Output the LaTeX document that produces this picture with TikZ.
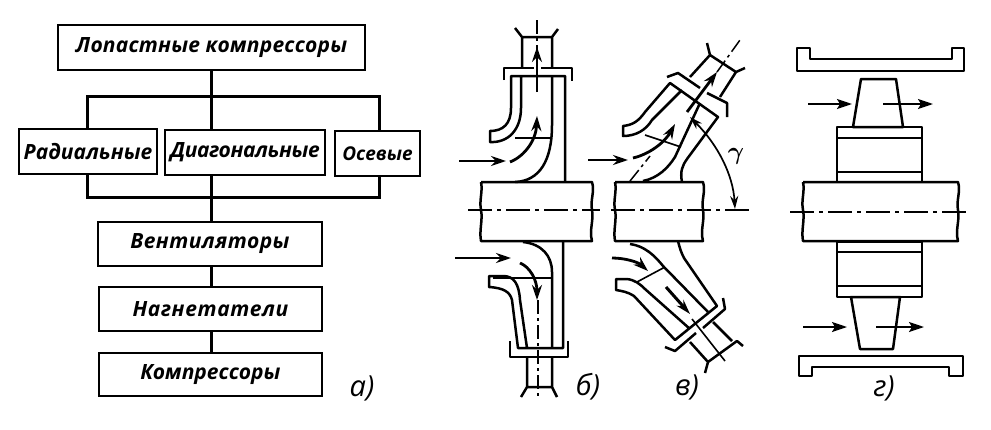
\documentclass[tikz,border=0pt]{standalone}
\usepackage{fontspec}
\setsansfont{Open Sans}
\usetikzlibrary{positioning, arrows.meta, calc}
\newcommand{\spaced}[1]{\addfontfeature{LetterSpace=#1}}
\begin{document}
\begin{tikzpicture}[
  x=1pt, y=-1pt,
  font=\sffamily,
  opbox/.style = {draw, line width=2.3pt, minimum height=45pt, inner sep=0pt, font=\sffamily\bfseries\itshape\fontsize{21}{21}\selectfont},
  lnk/.style   = {line width=3pt},
  wall/.style  = {line width=2.5pt, line join=round},
  fine/.style  = {line width=1.6pt},
  axisln/.style = {line width=1.2pt, dash pattern=on 24pt off 5pt on 4pt off 5pt},
  dotln/.style = {line width=1.5pt, dash pattern=on 14pt off 4pt on 3pt off 4pt},
  flow/.style  = {line width=2pt, -{Stealth[length=15pt,width=10pt,inset=3pt]}},
  flowb/.style = {line width=2.8pt, -{Stealth[length=15pt,width=10pt]}},
  partlbl/.style = {font=\sffamily\itshape\fontsize{29}{29}\selectfont},
]
\useasboundingbox (0,0) rectangle (991,429);
% shaft block with broken sides: #1 left x  #2 right x
\newcommand{\rotorshaft}[2]{%
  \draw[wall] (#1,182) -- (#2,182)
    .. controls (#2+3,192) and (#2-2,200) .. (#2,210)
    .. controls (#2+2,220) and (#2-3,230) .. (#2,241) -- (#1,241)
    .. controls (#1-2,230) and (#1+2,220) .. (#1,210)
    .. controls (#1-2,200) and (#1+2,192) .. (#1,182);%
}
% ---- scheme a
\node[opbox, minimum width=307pt] (top) at (211.5,47.5) {\spaced{1}Лопастные компрессоры};
\node[opbox, minimum width=138pt] (radial) at (88,151.5) {Радиальные};
\node[opbox, minimum width=160pt] (diag) at (245,152.5) {\spaced{-2}Диагональные};
\node[opbox, minimum width=85pt] (axial) at (377.5,153.5) {\fontsize{19}{19}\selectfont Осевые};
\node[opbox, minimum width=224pt, minimum height=44pt] (fan) at (210,244) {\spaced{2}Вентиляторы};
\node[opbox, minimum width=223pt, minimum height=44pt] (blower) at (210.5,309) {\spaced{3}Нагнетатели};
\node[opbox, minimum width=223pt, minimum height=43pt] (comp) at (210.5,374.5) {Компрессоры};
\coordinate (barTL) at (87,96);
\coordinate (barTR) at (379,96);
\coordinate (barBL) at (87,197);
\coordinate (barBR) at (379,197);
\draw[lnk] (top.south) -- (top.south |- diag.north);
\draw[lnk] (barTL |- radial.north) -- (barTL) -- (barTR) -- (barTR |- axial.north);
\draw[lnk] (barBL |- radial.south) -- (barBL) -- (barBR) -- (barBR |- axial.south);
\draw[lnk] (top.south |- diag.south) -- (top.south |- fan.north);
\draw[lnk] (top.south |- fan.south) -- (top.south |- blower.north);
\draw[lnk] (top.south |- blower.south) -- (top.south |- comp.north);
\node[partlbl] (lblA) at (362,388) {а)};
% ---- scheme b, radial
\rotorshaft{481}{592}
\draw[axisln] (468,210) -- (600,210);
\draw[wall] (565,182) -- (565,76) -- (511,76) -- (511,108) .. controls (511,124) and (503,131) .. (490,131) -- (490,142)
  .. controls (508,143) and (521,130) .. (521,108) -- (521,76);
\draw[wall] (552,76) -- (552,125) .. controls (552,160) and (540,181) .. (515,182);
\draw[fine] (515,138) -- (552,138);
\draw[wall] (504,80) -- (504,68) -- (534,68) (541,68) -- (572,68) -- (572,81);
\draw[wall] (522,68) -- (522,37) -- (552,37) -- (552,68) (522,37) -- (515,28) (552,37) -- (558,29);
\draw[dotln] (537,20) -- (537,50);
\draw[flowb] (537,92) -- (537,47);
\draw[flowb] (510,162) .. controls (525,156) and (536,140) .. (537,116);
\draw[flowb] (459,161) -- (506,161);
\draw[wall] (563,241) -- (563,348) -- (518,348) -- (512,300) .. controls (510,292) and (504,288) .. (489,287) -- (489,276) -- (503,276)
  .. controls (514,276) and (519,284) .. (520,300) -- (527,348);
\draw[wall] (523,242) .. controls (542,244) and (552,256) .. (552,272) -- (552,348);
\draw[fine] (493,278) -- (552,278);
\draw[wall] (510,341) -- (510,357) -- (568,357) -- (568,341);
\draw[wall] (527,357) -- (527,387) -- (552,387) -- (552,357) (527,387) -- (521,397) (552,387) -- (557,397);
\draw[dotln] (538,300) -- (538,399);
\draw[flowb] (520,263) .. controls (530,267) and (537,280) .. (537,300);
\draw[flowb] (455,258) -- (511,258);
\node[partlbl] (lblB) at (588,387) {б)};
% ---- scheme c, diagonal
\rotorshaft{615}{703}
\draw[axisln] (611,210) -- (751,210);
\draw[wall] (682,182) .. controls (680,172) and (682,166) .. (687,159) -- (718,117) -- (670,83) -- (645,112)
  .. controls (638,122) and (632,125) .. (623,126) -- (623,136) .. controls (636,136) and (646,130) .. (652,120) -- (682,90);
\draw[wall] (643,181) .. controls (658,178) and (668,168) .. (675,157) -- (700,103);
\draw[fine] (645,135) -- (681,147);
\draw[wall] (667,77) -- (678,73) -- (700,88) (707,93) -- (727,103) -- (727,117);
\draw[wall] (690,77) -- (710,55) -- (736,72) -- (720,97) (710,55) -- (707,43) (736,72) -- (745,68);
\draw[dotln] (630,181) -- (650,156) (717,72) -- (740,40);
\draw[flowb] (687,112) -- (717,72);
\draw[flowb] (633,158) .. controls (650,154) and (665,142) .. (675,124);
\draw[flowb] (588,160) -- (628,160);
\draw[line width=1.7pt, {Stealth[length=13pt,width=8pt]}-{Stealth[length=13pt,width=8pt]}] (690,117) .. controls (718,145) and (733,175) .. (735,209);
\node[font=\boldmath\fontsize{31}{31}\selectfont] (gamma) at (736,156) {$\gamma$};
\draw[wall] (678,241) .. controls (680,249) and (681,252) .. (684,258) -- (717,306) -- (675,340) -- (634,296)
  .. controls (628,292) and (622,291) .. (616,290) -- (616,279) -- (627,279) .. controls (635,280) and (640,284) .. (645,289) -- (690,329);
\draw[wall] (630,244) .. controls (645,246) and (655,256) .. (663,266) -- (708,312);
\draw[fine] (637,282) -- (665,267);
\draw[wall] (665,347) -- (675,351) -- (696,333) (703,328) -- (725,309) -- (723,298);
\draw[wall] (690,342) -- (708,362) -- (737,341) -- (743,346) (713,322) -- (732,341) (708,362) -- (705,373);
\draw[fine] (692,319) -- (725,361);
\draw[flowb] (612,258) .. controls (625,258) and (638,262) .. (648,271);
\draw[line width=3pt, -{Stealth[length=15pt,width=9pt]}] (666,287) -- (690,314);
\node[partlbl] (lblC) at (687,387) {в)};
% ---- scheme d, axial
\rotorshaft{803}{958}
\draw[axisln] (790,212) -- (970,212);
\draw[wall] (797,48) -- (810,48) -- (810,59) -- (952,59) -- (952,48) -- (964,48) -- (964,71) -- (797,71) -- cycle;
\draw[wall] (861,79) -- (896,79) -- (903,127) -- (853,127) -- cycle;
\draw[wall] (837,182) rectangle (922,127);
\foreach \yy in {138,172,252,286} {\draw[fine] (837,\yy) -- (922,\yy);}
\draw[wall] (837,242) rectangle (922,297);
\draw[wall] (851,297) -- (900,297) -- (893,349) -- (860,349) -- cycle;
\draw[wall] (799,356) -- (963,356) -- (963,376) -- (949,376) -- (949,367) -- (812,367) -- (812,376) -- (799,376) -- cycle;
\draw[flow] (808,104) -- (852,104);
\draw[flow] (883,104) -- (933,104);
\draw[flow] (803,327) -- (847,327);
\draw[flow] (876,327) -- (924,327);
\node[partlbl] (lblD) at (884,388) {г)};
\end{tikzpicture}
\end{document}
